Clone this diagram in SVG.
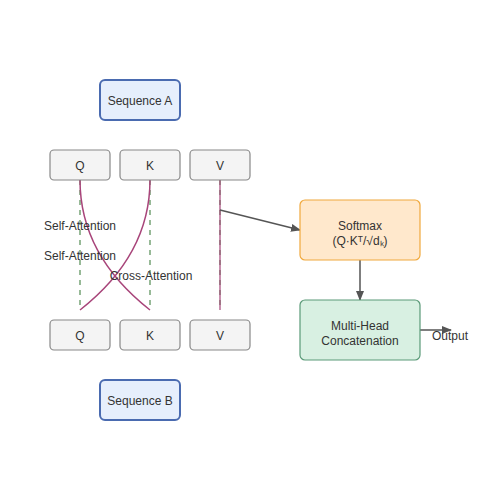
<svg xmlns="http://www.w3.org/2000/svg" width="500" height="500" viewBox="0 0 500 500">
<defs>
<marker id="arr" markerWidth="10" markerHeight="8" refX="9" refY="4" orient="auto" markerUnits="userSpaceOnUse">
<path d="M0,0 L10,4 L0,8 Z" fill="#555"/>
</marker>
<style>
text{font-family:"Liberation Sans",Arial,sans-serif;font-size:12px;fill:#333;text-anchor:middle}
.seq{fill:#e6effc;stroke:#4a6bb0;stroke-width:2}
.qkv{fill:#f4f4f4;stroke:#888;stroke-width:1.2}
.self{fill:none;stroke:#75a275;stroke-width:1.5;stroke-dasharray:5,5}
.cross{fill:none;stroke:#a8457a;stroke-width:1.5}
.flow{fill:none;stroke:#555;stroke-width:1.5}
</style>
</defs>
<rect width="500" height="500" fill="#fff"/>
<g id="connectors">
<path class="self" d="M80,180 V310"/>
<path class="self" d="M150,180 V310"/>
<path class="self" d="M220,180 V310"/>
<path class="cross" d="M80,180 Q80,255 150,310"/>
<path class="cross" d="M150,180 Q150,255 80,310"/>
<path class="cross" d="M220,180 V310" opacity="0.8"/>
<path class="flow" d="M220,210 L300,230" marker-end="url(#arr)"/>
<path class="flow" d="M360,260 V300" marker-end="url(#arr)"/>
<path class="flow" d="M420,330 H451" marker-end="url(#arr)"/>
<text x="80" y="230">Self-Attention</text>
<text x="80" y="260">Self-Attention</text>
<text x="151" y="280">Cross-Attention</text>
<text x="432" y="340" style="text-anchor:start">Output</text>
</g>
<g id="seqA"><rect class="seq" x="100" y="80" width="80" height="40" rx="5"/><text x="140" y="104.5">Sequence A</text></g>
<g id="qA"><rect class="qkv" x="50" y="150" width="60" height="30" rx="4"/><text x="80" y="169.5">Q</text></g>
<g id="kA"><rect class="qkv" x="120" y="150" width="60" height="30" rx="4"/><text x="150" y="169.5">K</text></g>
<g id="vA"><rect class="qkv" x="190" y="150" width="60" height="30" rx="4"/><text x="220" y="169.5">V</text></g>
<g id="qB"><rect class="qkv" x="50" y="320" width="60" height="30" rx="4"/><text x="80" y="339.5">Q</text></g>
<g id="kB"><rect class="qkv" x="120" y="320" width="60" height="30" rx="4"/><text x="150" y="339.5">K</text></g>
<g id="vB"><rect class="qkv" x="190" y="320" width="60" height="30" rx="4"/><text x="220" y="339.5">V</text></g>
<g id="seqB"><rect class="seq" x="100" y="380" width="80" height="40" rx="5"/><text x="140" y="404.5">Sequence B</text></g>
<g id="softmax"><rect x="300" y="200" width="120" height="60" rx="5" fill="#ffe8cc" stroke="#f0a83c" stroke-width="1.2"/><text x="360" y="230">Softmax</text><text x="360" y="245">(Q·Kᵀ/√dₖ)</text></g>
<g id="concat"><rect x="300" y="300" width="120" height="60" rx="5" fill="#d8f0e2" stroke="#5a9a78" stroke-width="1.2"/><text x="360" y="330">Multi-Head</text><text x="360" y="345">Concatenation</text></g>
</svg>
